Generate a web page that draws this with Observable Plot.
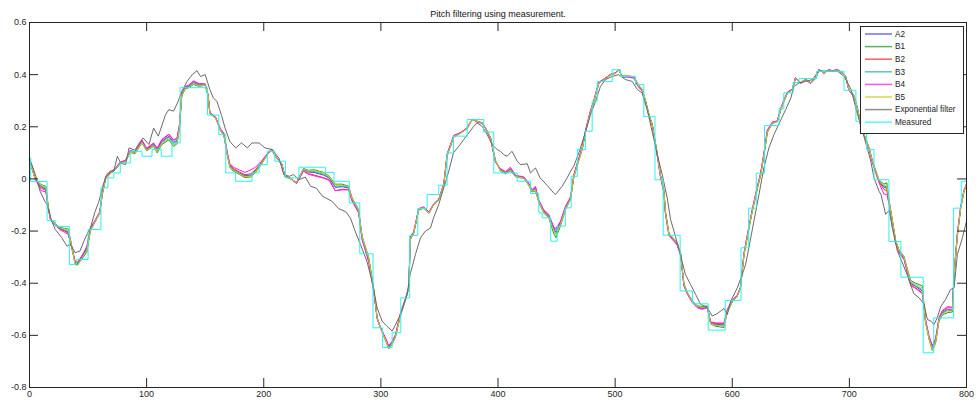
<!DOCTYPE html>
<html><head><meta charset="utf-8">
<script src="https://cdn.jsdelivr.net/npm/d3@7"></script>
<script src="https://cdn.jsdelivr.net/npm/@observablehq/plot@0.6"></script>
<style>
html,body{margin:0;padding:0;background:#fff;}
#chart{position:relative;width:979px;height:403px;overflow:hidden;}
svg text{font-family:"Liberation Sans",Arial,sans-serif;}
</style></head><body><div id="chart"></div>
<script>
const chartTitle = "Pitch filtering using measurement.";
const seriesNames = ["A2","B1","B2","B3","B4","B5"];
const seriesColors = ["#3c3cff","#1f9a1f","#ff2a2a","#1fb4b4","#ff1aff","#c8c81e"];
const expName = "Exponential filter", expColor = "#6a6a6a";
const measName = "Measured", measColor = "#2af0f0";
const xTicks = [0,100,200,300,400,500,600,700,800];
const xTickLabels = ["0","100","200","300","400","500","600","700","800"];
const yTicks = [0.6,0.4,0.2,0,-0.2,-0.4,-0.6,-0.8];
const yTickLabels = ["0.6","0.4","0.2","0","-0.2","-0.4","-0.6","-0.8"];

const filterX = [
0,5,10,14,16,18,22,26,30,33,
35,39,41,46,49,52,56,60,62,65,
69,73,77.5,82,86,90,96,100,106,109,
113,119,123,126,128,130,133,136,140,145,
150,152.5,154,159,163,166,169,171,174,179,
184,189,193,198,204,207,210,215.6,218,222,
228,234,238,243,251,256,261,267,272.5,275.4,
281,284,289.6,294,296.8,299.6,304,306.7,309.6,312.4,
316.7,321,323.8,325.2,328,332.3,336.6,341,345,349.4,
353.7,356.6,362.2,368,373.7,378,382,386.5,389.3,393.6,
397.8,402,406.4,410.6,415,422,426.3,429,432,434.8,
439,443.4,447.6,449.5,453.4,457.6,462,464.7,467.6,472,
474.7,479,481.8,486,490.4,496,500.3,503,506,511.7,
516,520.3,523,526,528.8,531.7,536,538.8,541.6,543,
546,548.8,553,556,558.7,561.6,565.9,570,574.4,578.7,
581.5,585.8,592.9,595.8,600,604.3,607,610,614.2,617,
621.4,624.2,627,630,634.2,638.5,641.3,644,647,651.3,
654,658.3,662.7,667,671.2,674,678.3,682.6,685.4,689.7,
694,696.8,699.6,704,706.8,709.6,712.5,716.7,719.6,722.4,
725.3,729.5,732,733.8,736.7,739.5,742.4,746.7,749.5,752.4,
756.6,762.3,765,768,770.8,773.6,776.5,779.3,783.7,788,
789.4,792.2,795,797.8,800];

const A2 = [
0.074,-0.002,-0.03,-0.04,-0.11,-0.155,-0.174,-0.19,-0.198,-0.205,
-0.239,-0.322,-0.325,-0.29,-0.268,-0.194,-0.162,-0.13,-0.06,0.004,
0.023,0.036,0.061,0.068,0.106,0.1,0.144,0.113,0.132,0.11,
0.144,0.164,0.14,0.148,0.2,0.323,0.349,0.355,0.37,0.36,
0.362,0.32,0.253,0.234,0.189,0.17,0.093,0.05,0.036,0.023,
0.012,0.015,0.032,0.061,0.1,0.113,0.087,0.055,0.01,0.004,
-0.015,0.036,0.026,0.025,0.015,0.003,-0.032,-0.03,-0.034,-0.079,
-0.124,-0.226,-0.308,-0.43,-0.533,-0.571,-0.615,-0.645,-0.628,-0.603,
-0.52,-0.462,-0.418,-0.226,-0.207,-0.117,-0.11,-0.13,-0.098,-0.079,
-0.021,0.093,0.164,0.176,0.195,0.228,0.22,0.215,0.195,0.157,
0.068,0.036,0.023,0.038,0.01,0.004,-0.021,-0.047,-0.036,-0.085,
-0.124,-0.143,-0.19,-0.205,-0.17,-0.111,-0.073,0.01,0.055,0.119,
0.183,0.26,0.298,0.368,0.381,0.4,0.406,0.419,0.393,0.393,
0.39,0.355,0.343,0.298,0.247,0.208,0.093,0.01,-0.047,-0.13,
-0.213,-0.226,-0.248,-0.29,-0.405,-0.437,-0.469,-0.488,-0.496,-0.49,
-0.552,-0.558,-0.56,-0.507,-0.469,-0.449,-0.418,-0.29,-0.188,-0.124,
-0.034,0.017,0.093,0.183,0.215,0.221,0.266,0.298,0.33,0.343,
0.387,0.368,0.381,0.368,0.387,0.419,0.406,0.419,0.413,0.419,
0.406,0.393,0.343,0.317,0.272,0.208,0.17,0.119,0.068,0.03,
-0.009,-0.032,-0.035,-0.085,-0.162,-0.239,-0.277,-0.303,-0.354,-0.4,
-0.412,-0.43,-0.545,-0.609,-0.648,-0.622,-0.539,-0.513,-0.5,-0.503,
-0.366,-0.213,-0.111,-0.047,-0.021];

const B1 = [
0.074,-0.002,-0.022,-0.028,-0.105,-0.152,-0.172,-0.186,-0.19,-0.192,
-0.232,-0.326,-0.33,-0.3,-0.28,-0.2,-0.165,-0.132,-0.065,0.0,
0.02,0.034,0.058,0.066,0.102,0.096,0.138,0.108,0.125,0.1,
0.132,0.15,0.125,0.135,0.19,0.318,0.345,0.35,0.362,0.355,
0.36,0.318,0.25,0.232,0.186,0.165,0.088,0.045,0.03,0.018,
0.005,0.008,0.025,0.056,0.098,0.11,0.085,0.053,0.008,0.002,
-0.012,0.04,0.033,0.035,0.025,0.01,-0.02,-0.02,-0.028,-0.072,
-0.118,-0.22,-0.3,-0.425,-0.53,-0.572,-0.62,-0.652,-0.635,-0.608,
-0.525,-0.465,-0.42,-0.232,-0.21,-0.12,-0.112,-0.132,-0.1,-0.08,
-0.025,0.088,0.16,0.175,0.193,0.228,0.222,0.216,0.197,0.16,
0.072,0.03,0.02,0.03,0.008,0.002,-0.025,-0.05,-0.045,-0.09,
-0.13,-0.15,-0.21,-0.225,-0.18,-0.118,-0.078,0.005,0.05,0.114,
0.18,0.256,0.295,0.365,0.38,0.398,0.405,0.417,0.395,0.395,
0.392,0.358,0.346,0.3,0.25,0.21,0.097,0.015,-0.042,-0.125,
-0.21,-0.223,-0.245,-0.287,-0.4,-0.435,-0.468,-0.486,-0.49,-0.487,
-0.556,-0.565,-0.57,-0.512,-0.472,-0.45,-0.42,-0.295,-0.192,-0.128,
-0.038,0.012,0.088,0.178,0.212,0.22,0.262,0.295,0.327,0.342,
0.385,0.37,0.383,0.37,0.388,0.418,0.407,0.418,0.412,0.418,
0.405,0.394,0.345,0.32,0.275,0.212,0.172,0.122,0.072,0.034,
-0.004,-0.02,-0.015,-0.08,-0.158,-0.235,-0.272,-0.298,-0.345,-0.39,
-0.4,-0.41,-0.55,-0.615,-0.658,-0.63,-0.545,-0.522,-0.513,-0.51,
-0.372,-0.22,-0.115,-0.05,-0.022];

const B2 = [
0.074,-0.002,-0.035,-0.045,-0.112,-0.157,-0.176,-0.192,-0.2,-0.208,
-0.242,-0.32,-0.322,-0.286,-0.262,-0.19,-0.16,-0.128,-0.058,0.006,
0.025,0.038,0.063,0.07,0.108,0.102,0.148,0.116,0.136,0.116,
0.15,0.17,0.148,0.155,0.205,0.326,0.352,0.358,0.375,0.364,
0.364,0.322,0.255,0.236,0.191,0.173,0.096,0.054,0.04,0.027,
0.016,0.02,0.036,0.064,0.102,0.115,0.088,0.056,0.011,0.005,
-0.017,0.032,0.02,0.015,0.005,-0.003,-0.045,-0.04,-0.04,-0.083,
-0.128,-0.23,-0.312,-0.433,-0.535,-0.57,-0.612,-0.642,-0.625,-0.6,
-0.518,-0.46,-0.416,-0.222,-0.205,-0.115,-0.108,-0.128,-0.097,-0.078,
-0.019,0.095,0.166,0.177,0.196,0.229,0.219,0.214,0.194,0.155,
0.066,0.038,0.025,0.04,0.012,0.006,-0.019,-0.045,-0.033,-0.083,
-0.121,-0.14,-0.185,-0.195,-0.165,-0.108,-0.07,0.013,0.058,0.122,
0.185,0.262,0.3,0.37,0.383,0.401,0.407,0.42,0.392,0.392,
0.389,0.353,0.341,0.296,0.245,0.206,0.09,0.007,-0.05,-0.133,
-0.215,-0.228,-0.25,-0.292,-0.408,-0.439,-0.47,-0.49,-0.498,-0.492,
-0.55,-0.555,-0.555,-0.503,-0.466,-0.447,-0.416,-0.286,-0.185,-0.12,
-0.03,0.02,0.096,0.186,0.217,0.222,0.268,0.3,0.332,0.344,
0.388,0.367,0.38,0.367,0.386,0.42,0.405,0.42,0.414,0.42,
0.407,0.392,0.341,0.315,0.27,0.206,0.168,0.117,0.065,0.027,
-0.012,-0.04,-0.045,-0.09,-0.166,-0.243,-0.28,-0.306,-0.358,-0.405,
-0.418,-0.437,-0.54,-0.605,-0.64,-0.615,-0.535,-0.508,-0.494,-0.495,
-0.362,-0.21,-0.109,-0.045,-0.02];

const B3 = [
0.074,-0.002,-0.028,-0.036,-0.109,-0.154,-0.173,-0.189,-0.196,-0.202,
-0.237,-0.324,-0.327,-0.292,-0.27,-0.196,-0.163,-0.131,-0.061,0.003,
0.022,0.035,0.06,0.067,0.105,0.099,0.142,0.111,0.13,0.107,
0.14,0.16,0.136,0.145,0.198,0.322,0.348,0.354,0.368,0.359,
0.362,0.32,0.252,0.234,0.188,0.169,0.092,0.049,0.035,0.022,
0.01,0.013,0.03,0.06,0.1,0.113,0.087,0.055,0.01,0.004,
-0.015,0.037,0.028,0.028,0.018,0.005,-0.028,-0.027,-0.032,-0.077,
-0.122,-0.225,-0.306,-0.43,-0.533,-0.571,-0.616,-0.647,-0.63,-0.604,
-0.521,-0.463,-0.418,-0.227,-0.207,-0.117,-0.11,-0.13,-0.098,-0.079,
-0.022,0.092,0.163,0.176,0.195,0.228,0.22,0.215,0.195,0.157,
0.069,0.035,0.022,0.036,0.01,0.004,-0.022,-0.047,-0.038,-0.086,
-0.125,-0.145,-0.195,-0.21,-0.173,-0.112,-0.074,0.009,0.054,0.118,
0.182,0.259,0.297,0.367,0.381,0.4,0.406,0.419,0.393,0.393,
0.39,0.355,0.343,0.298,0.247,0.208,0.093,0.01,-0.047,-0.13,
-0.212,-0.225,-0.247,-0.289,-0.404,-0.437,-0.469,-0.488,-0.494,-0.49,
-0.553,-0.56,-0.562,-0.508,-0.47,-0.449,-0.418,-0.29,-0.188,-0.124,
-0.034,0.017,0.093,0.183,0.215,0.221,0.266,0.298,0.33,0.343,
0.387,0.368,0.381,0.368,0.387,0.419,0.406,0.419,0.413,0.419,
0.406,0.393,0.343,0.317,0.272,0.208,0.17,0.119,0.068,0.03,
-0.008,-0.028,-0.03,-0.084,-0.161,-0.238,-0.276,-0.302,-0.352,-0.398,
-0.41,-0.425,-0.546,-0.61,-0.65,-0.624,-0.54,-0.515,-0.503,-0.505,
-0.368,-0.215,-0.112,-0.048,-0.021];

const B4 = [
0.074,0.0,-0.045,-0.05,-0.115,-0.158,-0.178,-0.195,-0.205,-0.213,
-0.245,-0.318,-0.32,-0.285,-0.258,-0.188,-0.158,-0.126,-0.056,0.008,
0.027,0.04,0.065,0.072,0.11,0.104,0.15,0.118,0.138,0.118,
0.152,0.172,0.15,0.157,0.208,0.328,0.355,0.36,0.376,0.365,
0.365,0.323,0.256,0.237,0.193,0.175,0.1,0.06,0.045,0.035,
0.025,0.035,0.045,0.068,0.103,0.114,0.088,0.057,0.012,0.006,
-0.018,0.03,0.018,0.012,0.003,-0.006,-0.045,-0.042,-0.042,-0.085,
-0.13,-0.234,-0.32,-0.436,-0.536,-0.569,-0.61,-0.64,-0.622,-0.598,
-0.515,-0.458,-0.415,-0.22,-0.203,-0.114,-0.107,-0.127,-0.096,-0.077,
-0.018,0.096,0.167,0.178,0.196,0.229,0.218,0.213,0.193,0.154,
0.065,0.04,0.028,0.045,0.014,0.008,-0.016,-0.042,-0.028,-0.08,
-0.118,-0.136,-0.185,-0.19,-0.162,-0.105,-0.068,0.015,0.06,0.124,
0.186,0.263,0.301,0.371,0.383,0.401,0.407,0.42,0.391,0.39,
0.386,0.35,0.338,0.293,0.242,0.204,0.088,0.005,-0.052,-0.136,
-0.218,-0.232,-0.255,-0.296,-0.41,-0.442,-0.474,-0.494,-0.5,-0.495,
-0.548,-0.552,-0.553,-0.5,-0.464,-0.446,-0.414,-0.284,-0.183,-0.118,
-0.028,0.022,0.098,0.188,0.218,0.223,0.27,0.302,0.333,0.345,
0.389,0.366,0.379,0.366,0.385,0.42,0.404,0.42,0.414,0.42,
0.408,0.391,0.34,0.313,0.268,0.204,0.166,0.115,0.063,0.025,
-0.015,-0.058,-0.06,-0.095,-0.168,-0.245,-0.283,-0.31,-0.362,-0.41,
-0.42,-0.44,-0.538,-0.602,-0.64,-0.612,-0.532,-0.505,-0.49,-0.492,
-0.36,-0.208,-0.107,-0.044,-0.02];

const B5 = [
0.074,-0.004,-0.025,-0.03,-0.108,-0.154,-0.173,-0.188,-0.192,-0.196,
-0.236,-0.33,-0.332,-0.296,-0.276,-0.198,-0.164,-0.131,-0.062,0.002,
0.021,0.035,0.06,0.067,0.104,0.098,0.14,0.11,0.128,0.104,
0.136,0.155,0.13,0.14,0.195,0.32,0.347,0.352,0.365,0.357,
0.361,0.319,0.251,0.233,0.187,0.167,0.09,0.047,0.033,0.02,
0.008,0.01,0.028,0.058,0.099,0.112,0.086,0.054,0.009,0.003,
-0.013,0.038,0.03,0.032,0.022,0.008,-0.024,-0.024,-0.03,-0.075,
-0.12,-0.222,-0.304,-0.428,-0.532,-0.572,-0.618,-0.65,-0.632,-0.606,
-0.522,-0.464,-0.419,-0.23,-0.208,-0.118,-0.111,-0.131,-0.099,-0.08,
-0.023,0.09,0.162,0.175,0.194,0.228,0.221,0.215,0.196,0.158,
0.07,0.032,0.021,0.032,0.009,0.003,-0.023,-0.048,-0.042,-0.088,
-0.128,-0.147,-0.2,-0.215,-0.176,-0.115,-0.076,0.007,0.052,0.116,
0.181,0.258,0.296,0.366,0.38,0.399,0.405,0.418,0.394,0.394,
0.391,0.356,0.345,0.299,0.248,0.209,0.095,0.012,-0.045,-0.128,
-0.212,-0.225,-0.246,-0.289,-0.402,-0.436,-0.468,-0.487,-0.493,-0.489,
-0.554,-0.562,-0.565,-0.51,-0.47,-0.45,-0.419,-0.292,-0.19,-0.126,
-0.036,0.014,0.09,0.18,0.213,0.22,0.264,0.296,0.328,0.342,
0.386,0.369,0.382,0.369,0.387,0.418,0.406,0.418,0.412,0.418,
0.405,0.393,0.344,0.318,0.273,0.21,0.171,0.12,0.07,0.032,
-0.006,-0.025,-0.022,-0.082,-0.16,-0.237,-0.275,-0.3,-0.35,-0.395,
-0.405,-0.418,-0.548,-0.612,-0.655,-0.628,-0.542,-0.518,-0.508,-0.506,
-0.37,-0.216,-0.113,-0.048,-0.021];

const expFilter = [
[0,0.08],[5,0.017],[9,-0.047],[13,-0.085],[15,-0.098],[19,-0.162],[22,-0.194],[27.7,-0.226],[32,-0.258],[34.7,-0.25],
[39,-0.283],[43,-0.277],[47.6,-0.226],[52,-0.188],[56,-0.125],[59,-0.09],[63,-0.021],[66,0.017],[69,0.03],[72,0.03],
[75,0.087],[78,0.06],[82,0.055],[85,0.119],[90,0.11],[94,0.14],[97,0.157],[102,0.132],[106,0.195],[110,0.164],
[116,0.245],[119,0.266],[123,0.26],[127,0.298],[130,0.336],[134.5,0.374],[139,0.4],[143,0.415],[146,0.393],[150,0.4],
[154,0.343],[157,0.31],[160,0.298],[164,0.243],[167,0.195],[171,0.144],[176,0.119],[181,0.138],[186,0.119],[190,0.138],
[196,0.138],[201,0.119],[207,0.113],[213,0.08],[217,0.017],[222,0.01],[225.5,0.017],[230,-0.003],[235.5,0.007],[240,-0.028],
[245,-0.036],[250,-0.066],[253,-0.073],[258,-0.085],[264,-0.114],[270,-0.126],[274,-0.15],[278,-0.2],[282.5,-0.251],[288,-0.315],
[292.5,-0.392],[296.8,-0.494],[301,-0.545],[305,-0.564],[309.6,-0.584],[312.4,-0.56],[316.7,-0.52],[322.4,-0.443],[325,-0.366],[329.5,-0.29],
[333.8,-0.226],[338,-0.2],[342.4,-0.188],[345,-0.149],[349.4,-0.098],[353.7,-0.034],[358,0.03],[362,0.1],[366.5,0.125],[370.8,0.151],
[375,0.176],[379.3,0.202],[382,0.215],[386.5,0.202],[390.7,0.17],[395,0.132],[399.3,0.113],[402,0.106],[405,0.093],[407.8,0.087],
[409,0.093],[412,0.106],[416.4,0.068],[419,0.055],[425,0.058],[427.7,0.023],[432,0.042],[436,0.004],[442,-0.025],[447.6,-0.054],
[449,-0.06],[454.8,-0.028],[459,0.004],[462,0.03],[464.7,0.049],[469,0.1],[474.7,0.18],[479,0.247],[483.3,0.298],[487.5,0.355],
[491.8,0.381],[497.5,0.393],[503,0.4],[508.9,0.381],[514.6,0.374],[519,0.343],[523,0.33],[527.4,0.266],[531.7,0.18],[536,0.093],
[540.2,0.017],[544.5,-0.073],[547.3,-0.155],[551.5,-0.22],[556,-0.296],[560,-0.366],[564.4,-0.405],[568.7,-0.443],[573,-0.481],[578.5,-0.492],
[583,-0.526],[587,-0.517],[593,-0.497],[595.8,-0.52],[598.6,-0.469],[604.3,-0.418],[608.6,-0.366],[611.4,-0.328],[614.2,-0.264],[618.5,-0.162],
[622.8,-0.06],[627,0.042],[631.3,0.119],[635.6,0.17],[641.3,0.225],[645.6,0.266],[650,0.31],[652.7,0.355],[657,0.368],[662.7,0.374],
[668.4,0.381],[674,0.415],[682,0.413],[690,0.413],[695.6,0.393],[701.5,0.343],[705.8,0.266],[710,0.202],[714,0.138],[718.3,0.068],
[721,0.004],[725.3,-0.047],[727,-0.06],[731,-0.136],[734,-0.12],[736.7,-0.19],[741,-0.277],[746,-0.33],[749.5,-0.37],[755,-0.44],
[759.5,-0.456],[763.8,-0.481],[766.6,-0.539],[769.5,-0.545],[772.3,-0.558],[775,-0.533],[778,-0.49],[782.2,-0.462],[786.4,-0.424],[789.4,-0.418],
[792.2,-0.29],[796.5,-0.226],[800,-0.162]];

const measuredSteps = [
[0,0.08],[1,-0.01],[15,-0.16],[22,-0.182],[34,-0.328],[40,-0.309],[50,-0.194],[61,-0.034],[67,0.004],[72,0.023],
[77.5,0.061],[86,0.106],[96,0.087],[104.6,0.113],[112.5,0.087],[121.6,0.138],[128.6,0.35],[152,0.245],[161.6,0.17],[167.6,0.023],
[176,-0.009],[190,0.023],[196,0.055],[203,0.106],[209.5,0.068],[218.5,0.004],[230,0.045],[252.6,0.025],[260,-0.009],[273,-0.092],
[282,-0.287],[293.3,-0.571],[301.5,-0.647],[309.6,-0.59],[317,-0.456],[324.6,-0.217],[331.5,-0.113],[339.5,-0.06],[349.4,-0.024],[356.5,0.1],
[362,0.164],[373.7,0.228],[387.8,0.18],[396.4,0.023],[416.4,-0.009],[427.7,-0.056],[434.8,-0.13],[437.7,-0.149],[445,-0.239],[450.5,-0.181],
[457.5,-0.111],[462.5,0.01],[467.7,0.113],[474.7,0.183],[480.4,0.298],[484.7,0.374],[497.5,0.419],[504.6,0.393],[517.4,0.362],[524.5,0.24],
[534,-0.003],[541,-0.216],[555.5,-0.43],[566,-0.479],[579.5,-0.58],[594,-0.466],[607.5,-0.264],[614,-0.112],[620.5,0.022],[627.5,0.205],
[640,0.27],[644,0.33],[652,0.37],[657,0.385],[672,0.413],[695.4,0.34],[705.6,0.221],[714.7,0.113],[721,-0.003],[733.8,-0.24],
[744,-0.377],[763,-0.667],[772,-0.533],[789,-0.112],[795.5,-0.009],[800,-0.009]];

// ---- build tables ----
const seriesValues = [A2,B1,B2,B3,B4,B5];
const filterRows = [];
seriesNames.forEach((name,i)=>{
  const vals = seriesValues[i];
  const n = Math.min(filterX.length, vals.length);
  for (let k=0;k<n;k++) filterRows.push({series:name, x:filterX[k], y:vals[k]});
});
const expRows = expFilter.map(([x,y])=>({series:expName,x,y}));
const measRows = measuredSteps.map(([x,y])=>({series:measName,x,y}));

const W=979, H=403, mL=29, mR=13, mT=22, mB=16;
const pw = W-mL-mR, ph = H-mT-mB, tickLen = 9;
const axisColor = "#262626";
const allNames = [...seriesNames, expName, measName];
const allColors = [...seriesColors, expColor, measColor];

const chart = Plot.plot({
  width: W, height: H,
  marginLeft: mL, marginRight: mR, marginTop: mT, marginBottom: mB,
  style: {fontFamily: "'Liberation Sans', Arial, sans-serif", fontSize: "9px", color: axisColor, background: "#fff", overflow: "visible"},
  x: {domain: [0,800], label: null},
  y: {domain: [-0.8,0.6], label: null},
  color: {domain: allNames, range: allColors},
  marks: [
    Plot.line(filterRows, {x:"x", y:"y", z:"series", stroke:"series", strokeWidth:1}),
    Plot.line(expRows, {x:"x", y:"y", stroke:"series", strokeWidth:1}),
    Plot.line(measRows, {x:"x", y:"y", stroke:"series", strokeWidth:1, curve:"step-after"}),
    Plot.tickY(yTicks, {y: d=>d, stroke: axisColor, insetRight: pw-tickLen}),
    Plot.tickY(yTicks, {y: d=>d, stroke: axisColor, insetLeft: pw-tickLen}),
    Plot.tickX(xTicks, {x: d=>d, stroke: axisColor, insetBottom: ph-tickLen}),
    Plot.tickX(xTicks, {x: d=>d, stroke: axisColor, insetTop: ph-tickLen}),
    Plot.axisX(xTicks, {anchor:"bottom", label: null, tickSize:0, tickPadding:3, tickFormat:(d)=>xTickLabels[xTicks.indexOf(d)], fontSize:9}),
    Plot.axisY(yTicks, {anchor:"left", label: null, tickSize:0, tickPadding:3, tickFormat:(d)=>yTickLabels[yTicks.indexOf(d)], fontSize:9}),
    Plot.frame({stroke: axisColor}),
    Plot.text([chartTitle], {frameAnchor:"top", dy:-12, text:d=>d, fontSize:9, fill:"#111"})
  ]
});
document.getElementById("chart").appendChild(chart);

// ---- legend (inside plot, top right) ----
const svg = d3.select(chart);
const lg = svg.append("g").attr("class","legend").attr("text-anchor","start");
const lx = 860, ly = 26, lw = 103, lh = 107, rowH = 12.6;
lg.append("rect").attr("x",lx+0.5).attr("y",ly+0.5).attr("width",lw).attr("height",lh)
  .attr("fill","#fff").attr("stroke",axisColor).attr("stroke-width",1);
allNames.forEach((name,i)=>{
  const cy = ly + 8 + i*rowH;
  lg.append("line").attr("x1",lx+5).attr("x2",lx+32).attr("y1",cy).attr("y2",cy)
    .attr("stroke",allColors[i]).attr("stroke-width",1.5).attr("stroke-opacity",0.75);
  lg.append("text").attr("x",lx+35).attr("y",cy).attr("dy","0.35em").attr("text-anchor","start")
    .attr("font-size",8.2).attr("fill","#222").text(name);
});
</script>
</body></html>
